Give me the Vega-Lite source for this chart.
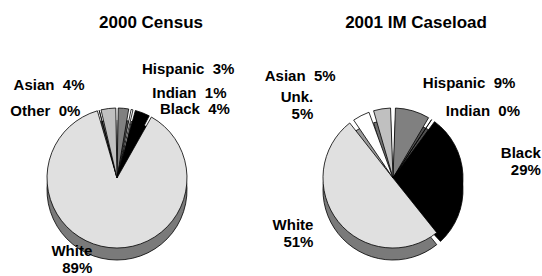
{
  "$schema": "https://vega.github.io/schema/vega-lite/v6.json",
  "padding": {"left": 0, "top": 14, "right": 0, "bottom": 0},
  "spacing": 8,
  "config": {
    "view": {"stroke": null},
    "font": "Liberation Sans",
    "title": {"fontSize": 17, "font": "Liberation Sans", "fontWeight": "bold", "color": "#000000", "offset": 26},
    "text": {"font": "Liberation Sans", "fontSize": 15, "fontWeight": "bold", "color": "#000000", "lineBreak": "\n", "baseline": "middle"}
  },
  "resolve": {"scale": {"color": "independent", "fill": "independent"}},
  "hconcat": [
    {
      "width": 234, "height": 240,
      "title": {"text": "2000 Census", "dx": 34},
      "data": {"values": [
        {"i": 1, "cat": "Hispanic", "value": 3, "label": "Hispanic \u00a03%"},
        {"i": 2, "cat": "Indian", "value": 1, "label": "Indian \u00a01%"},
        {"i": 3, "cat": "Black", "value": 4, "label": "Black \u00a04%"},
        {"i": 4, "cat": "White", "value": 89, "label": "White\n89%"},
        {"i": 5, "cat": "Other", "value": 0.3, "label": "Other \u00a00%"},
        {"i": 6, "cat": "Asian", "value": 4, "label": "Asian \u00a04%"}
      ]},
      "encoding": {
        "theta": {"field": "value", "type": "quantitative", "stack": true},
        "order": {"field": "i", "type": "quantitative"}
      },
      "layer": [
        {
          "mark": {"type": "arc", "outerRadius": 70, "padAngle": 0.035, "yOffset": 12, "stroke": "#000000", "strokeWidth": 0.8},
          "encoding": {
            "fill": {"field": "cat", "type": "nominal", "legend": null,
              "scale": {"domain": ["Hispanic", "Indian", "Black", "White", "Other", "Asian"],
                        "range": ["#505050", "#999999", "#000000", "#7a7a7a", "#999999", "#808080"]}}
          }
        },
        {
          "mark": {"type": "arc", "outerRadius": 70, "padAngle": 0.035, "stroke": "#000000", "strokeWidth": 0.8},
          "encoding": {
            "color": {"field": "cat", "type": "nominal", "legend": null,
              "scale": {"domain": ["Hispanic", "Indian", "Black", "White", "Other", "Asian"],
                        "range": ["#808080", "#ffffff", "#000000", "#e0e0e0", "#ffffff", "#c0c0c0"]}}
          }
        },
        {"mark": {"type": "text", "radius": 85, "align": "left", "dx": 17, "dy": -24},
         "encoding": {"text": {"condition": {"test": "datum.cat === 'Hispanic'", "field": "label"}, "value": ""}}},
        {"mark": {"type": "text", "radius": 85, "align": "left", "dx": 17, "dy": -2},
         "encoding": {"text": {"condition": {"test": "datum.cat === 'Indian'", "field": "label"}, "value": ""}}},
        {"mark": {"type": "text", "radius": 85, "align": "left", "dx": 12, "dy": 10},
         "encoding": {"text": {"condition": {"test": "datum.cat === 'Black'", "field": "label"}, "value": ""}}},
        {"mark": {"type": "text", "radius": 85, "align": "right", "dx": -15, "dy": -11},
         "encoding": {"text": {"condition": {"test": "datum.cat === 'White'", "field": "label"}, "value": ""}}},
        {"mark": {"type": "text", "radius": 85, "align": "right", "dx": -15, "dy": 15},
         "encoding": {"text": {"condition": {"test": "datum.cat === 'Other'", "field": "label"}, "value": ""}}},
        {"mark": {"type": "text", "radius": 85, "align": "right", "dx": -22, "dy": -9},
         "encoding": {"text": {"condition": {"test": "datum.cat === 'Asian'", "field": "label"}, "value": ""}}}
      ]
    },
    {
      "width": 300, "height": 240,
      "title": {"text": "2001 IM Caseload", "dx": 23},
      "data": {"values": [
        {"i": 1, "cat": "Hispanic", "value": 9, "label": "Hispanic \u00a09%"},
        {"i": 2, "cat": "Indian", "value": 0.5, "label": "Indian \u00a00%"},
        {"i": 3, "cat": "Black", "value": 29, "label": "Black\n29%"},
        {"i": 4, "cat": "White", "value": 51, "label": "White\n51%"},
        {"i": 5, "cat": "Unk.", "value": 5, "label": "Unk.\n5%"},
        {"i": 6, "cat": "Asian", "value": 5, "label": "Asian \u00a05%"}
      ]},
      "encoding": {
        "theta": {"field": "value", "type": "quantitative", "stack": true},
        "order": {"field": "i", "type": "quantitative"}
      },
      "layer": [
        {
          "mark": {"type": "arc", "outerRadius": 70, "padAngle": 0.07, "yOffset": 12, "stroke": "#000000", "strokeWidth": 0.8},
          "encoding": {
            "fill": {"field": "cat", "type": "nominal", "legend": null,
              "scale": {"domain": ["Hispanic", "Indian", "Black", "White", "Unk.", "Asian"],
                        "range": ["#505050", "#707070", "#000000", "#7a7a7a", "#999999", "#707070"]}}
          }
        },
        {
          "mark": {"type": "arc", "outerRadius": 70, "padAngle": 0.07, "stroke": "#000000", "strokeWidth": 0.8},
          "encoding": {
            "color": {"field": "cat", "type": "nominal", "legend": null,
              "scale": {"domain": ["Hispanic", "Indian", "Black", "White", "Unk.", "Asian"],
                        "range": ["#808080", "#a0a0a0", "#000000", "#e0e0e0", "#ffffff", "#c0c0c0"]}}
          }
        },
        {"mark": {"type": "text", "radius": 85, "align": "left", "dx": 6, "dy": -13},
         "encoding": {"text": {"condition": {"test": "datum.cat === 'Hispanic'", "field": "label"}, "value": ""}}},
        {"mark": {"type": "text", "radius": 85, "align": "left", "dx": 6, "dy": 4},
         "encoding": {"text": {"condition": {"test": "datum.cat === 'Indian'", "field": "label"}, "value": ""}}},
        {"mark": {"type": "text", "radius": 85, "align": "right", "dx": 63, "dy": -20},
         "encoding": {"text": {"condition": {"test": "datum.cat === 'Black'", "field": "label"}, "value": ""}}},
        {"mark": {"type": "text", "radius": 85, "align": "right", "dx": -13, "dy": -6},
         "encoding": {"text": {"condition": {"test": "datum.cat === 'White'", "field": "label"}, "value": ""}}},
        {"mark": {"type": "text", "radius": 85, "align": "right", "dx": -41, "dy": -5},
         "encoding": {"text": {"condition": {"test": "datum.cat === 'Unk.'", "field": "label"}, "value": ""}}},
        {"mark": {"type": "text", "radius": 85, "align": "right", "dx": -44, "dy": -18},
         "encoding": {"text": {"condition": {"test": "datum.cat === 'Asian'", "field": "label"}, "value": ""}}}
      ]
    }
  ]
}
